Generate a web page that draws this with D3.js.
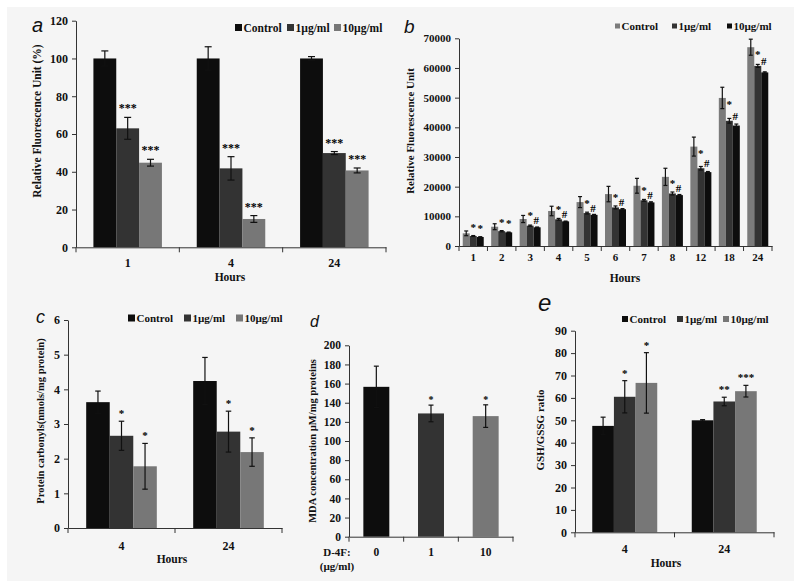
<!DOCTYPE html>
<html>
<head>
<meta charset="utf-8">
<script src="https://cdn.jsdelivr.net/npm/d3@7"></script>
<style>
  body { margin: 0; background: #fff; }
  text { font-family: "Liberation Serif", "Times New Roman", serif; fill: #111; }
  .axis path, .axis line { stroke: #333; }
  .axis text { font-weight: bold; }
  .mark { fill: #000; font-weight: bold; }
</style>
</head>
<body>
<svg width="800" height="588"></svg>
<script>
// panel a - relative fluorescence (%)
var aHours = ["1", "4", "24"];
var aControl = [100, 100, 100];
var aControlErr = [4, 6.2, 1];
var aLow = [63, 41.8, 49.9];
var aLowErr = [5.8, 6.2, 0.8];
var aHigh = [44.8, 15, 40.7];
var aHighErr = [1.8, 1.8, 1.3];
var aMarksLow = ["***", "***", "***"];
var aMarksHigh = ["***", "***", "***"];

// panel b - relative fluorescence over time
var bHours = ["1", "2", "3", "4", "5", "6", "7", "8", "12", "18", "24"];
var bControl = [4270, 6500, 9100, 11800, 14800, 17500, 20300, 23300, 33500, 49900, 67000];
var bControlErr = [800, 1000, 1200, 1600, 1850, 2600, 2500, 2900, 3200, 3600, 2700];
var bLow = [3370, 5000, 6850, 9000, 11100, 13000, 15400, 17700, 26200, 42200, 60700];
var bLowErr = [150, 200, 200, 300, 300, 500, 300, 500, 600, 800, 500];
var bHigh = [3030, 4600, 6300, 8300, 10500, 12400, 14700, 17150, 24900, 40600, 58500];
var bHighErr = [100, 100, 100, 100, 150, 200, 200, 200, 200, 500, 200];
var bMarksLow = ["*", "*", "*", "*", "*", "*", "*", "*", "*", "*", "*"];
var bMarksHigh = ["*", "*", "#", "#", "#", "#", "#", "#", "#", "#", "#"];

// panel c - protein carbonyls
var cHours = ["4", "24"];
var cControl = [3.63, 4.24];
var cControlErr = [0.32, 0.68];
var cLow = [2.66, 2.78];
var cLowErr = [0.42, 0.59];
var cHigh = [1.78, 2.19];
var cHighErr = [0.66, 0.41];
var cMarksLow = ["*", "*"];
var cMarksHigh = ["*", "*"];

// panel d - MDA
var dDoses = ["0", "1", "10"];
var dValues = [156.6, 128.8, 126];
var dErr = [21.6, 8.7, 11.8];
var dMarks = ["", "*", "*"];

// panel e - GSH/GSSG
var eHours = ["4", "24"];
var eControl = [47.5, 50];
var eControlErr = [3.9, 0.3];
var eLow = [60.5, 58.4];
var eLowErr = [7.2, 1.9];
var eHigh = [66.7, 63];
var eHighErr = [13.5, 2.6];
var eMarksLow = ["*", "**"];
var eMarksHigh = ["*", "***"];

var black = "#0d0d0d", dark = "#333333", gray = "#777777";

var svg = d3.select("svg");
svg.append("rect").attr("x", 7).attr("y", 7).attr("width", 787).attr("height", 574).attr("fill", "#f5f5f5");

function drawPanel(p) {
  var x = d3.scaleBand().domain(p.cats).range(p.xRange).paddingInner(p.pad).paddingOuter(p.pad / 2);
  var y = d3.scaleLinear().domain(p.yDomain).range(p.yRange);
  var xs = d3.scaleBand().domain(d3.range(p.series.length)).range([0, x.bandwidth()]);
  var g = svg.append("g");

  // bars, error bars, stars
  p.series.forEach(function(s, si) {
    var col = function(d, i) { return Array.isArray(s.color) ? s.color[i] : s.color; };
    var cx = function(i) { return x(p.cats[i]) + xs(si) + xs.bandwidth() / 2; };
    g.selectAll(null).data(s.values).enter().append("rect")
      .attr("x", function(d, i) { return x(p.cats[i]) + xs(si); })
      .attr("y", function(d) { return y(d); })
      .attr("width", xs.bandwidth())
      .attr("height", function(d) { return y(0) - y(d); })
      .attr("fill", col);
    var eb = g.selectAll(null).data(s.values).enter().append("g")
      .attr("stroke", "#111").attr("stroke-width", 1.2);
    eb.append("line")
      .attr("x1", function(d, i) { return cx(i); }).attr("x2", function(d, i) { return cx(i); })
      .attr("y1", function(d, i) { return y(d + s.errs[i]); })
      .attr("y2", function(d, i) { return y(d - s.errs[i]); });
    [1, -1].forEach(function(sign) {
      eb.append("line")
        .attr("x1", function(d, i) { return cx(i) - p.cap / 2; })
        .attr("x2", function(d, i) { return cx(i) + p.cap / 2; })
        .attr("y1", function(d, i) { return y(d + sign * s.errs[i]); })
        .attr("y2", function(d, i) { return y(d + sign * s.errs[i]); });
    });
    if (s.marks && !p.customMarks) {
      g.selectAll(null).data(s.values).enter().append("text")
        .attr("class", "mark")
        .attr("x", function(d, i) { return cx(i); })
        .attr("y", function(d, i) { return y(d + s.errs[i]) - p.markGap; })
        .attr("text-anchor", "middle")
        .style("font-size", p.markSize + "px")
        .text(function(d, i) { return s.marks[i]; });
    }
  });

  // y axis
  g.append("g").attr("class", "axis")
    .attr("transform", "translate(" + p.xRange[0] + ",0)")
    .call(d3.axisLeft(y).tickValues(p.yTicks).tickSize(4).tickSizeOuter(0).tickPadding(4).tickFormat(d3.format("d")))
    .call(function(a) { a.selectAll("text").style("font-size", p.tickSize + "px"); });

  // x axis with ticks at the category boundaries
  var xa = g.append("g").attr("class", "axis")
    .attr("transform", "translate(0," + y(0) + ")")
    .call(d3.axisBottom(x).tickSize(0).tickSizeOuter(0).tickPadding(p.xPad))
    .call(function(a) { a.selectAll("text").style("font-size", p.tickSize + "px"); });
  xa.selectAll(null).data(d3.range(p.cats.length + 1)).enter().append("line")
    .attr("x1", function(i) { return p.xRange[0] + i * x.step(); })
    .attr("x2", function(i) { return p.xRange[0] + i * x.step(); })
    .attr("y1", 0).attr("y2", 5).attr("stroke", "#333");

  // titles
  g.append("text")
    .attr("transform", "translate(" + p.yLabel.x + "," + p.yLabel.y + ") rotate(-90)")
    .attr("text-anchor", "middle").attr("dy", "0.35em")
    .style("font-size", p.yLabel.size + "px").style("font-weight", "bold")
    .text(p.yLabel.text);
  if (p.xLabel) {
    g.append("text").attr("x", p.xLabel.x).attr("y", p.xLabel.y).attr("dy", "0.35em")
      .attr("text-anchor", "middle").style("font-size", "11.5px").style("font-weight", "bold")
      .text(p.xLabel.text);
  }
  g.append("text").attr("x", p.letter.x).attr("y", p.letter.y)
    .style("font-family", "'Liberation Sans', Arial, sans-serif").style("font-style", "italic")
    .style("font-size", p.letter.size + "px").text(p.letter.text);

  // legend
  if (p.legend) {
    var lg = g.selectAll(null).data(p.series).enter().append("g")
      .attr("transform", function(s, i) { return "translate(" + p.legend.xs[i] + "," + p.legend.y + ")"; });
    lg.append("rect").attr("x", 0).attr("y", -p.legend.size / 2)
      .attr("width", p.legend.size).attr("height", p.legend.size)
      .attr("fill", function(s) { return s.color; });
    lg.append("text").attr("x", p.legend.size + 1.5).attr("dy", "0.35em")
      .style("font-size", p.legend.font + "px").style("font-weight", "bold")
      .text(function(s) { return s.name; });
  }
  return { x: x, y: y, xs: xs, g: g };
}

// a
drawPanel({
  cats: aHours, xRange: [76, 386], pad: 0.337, yDomain: [0, 120], yRange: [247.3, 20.7],
  yTicks: d3.range(0, 121, 20), tickSize: 12, xPad: 11, cap: 7, markGap: 5, markSize: 12,
  series: [
    { name: "Control", color: black, values: aControl, errs: aControlErr },
    { name: "1µg/ml", color: dark, values: aLow, errs: aLowErr, marks: aMarksLow },
    { name: "10µg/ml", color: gray, values: aHigh, errs: aHighErr, marks: aMarksHigh }
  ],
  yLabel: { text: "Relative Fluorescence Unit (%)", x: 37, y: 121, size: 11.5 },
  xLabel: { text: "Hours", x: 230, y: 277 },
  legend: { y: 27.5, size: 7, font: 11.5, xs: [235, 287, 334] },
  letter: { text: "a", x: 32, y: 32, size: 20 }
});

// b
var b = drawPanel({
  cats: bHours, xRange: [459, 772], pad: 0.262, yDomain: [0, 70000], yRange: [246, 38.3],
  yTicks: d3.range(0, 70001, 10000), tickSize: 11, xPad: 7, cap: 4, customMarks: true,
  series: [
    { name: "Control", color: "#7b7b7b", values: bControl, errs: bControlErr },
    { name: "1µg/ml", color: dark, values: bLow, errs: bLowErr, marks: bMarksLow },
    { name: "10µg/ml", color: black, values: bHigh, errs: bHighErr, marks: bMarksHigh }
  ],
  yLabel: { text: "Relative Fluorescence Unit", x: 410, y: 131, size: 11 },
  xLabel: { text: "Hours", x: 625, y: 278 },
  legend: { y: 26, size: 5, font: 11, xs: [615, 672, 727] },
  letter: { text: "b", x: 404, y: 33, size: 19 }
});
// b significance marks: above the bars for early hours, beside them later on
bHours.forEach(function(h, i) {
  var left = b.x(h);
  var xLow = left + b.xs(1) + b.xs.bandwidth() / 2;
  var xHigh = left + b.xs(2) + b.xs.bandwidth() / 2;
  var yLow, yHigh;
  if (bMarksHigh[i] === "*") {
    yLow = b.y(bLow[i]) - 11;
    yHigh = b.y(bHigh[i]) - 11;
  } else {
    yLow = Math.min(b.y(bControl[i]) + 5, b.y(bLow[i]) - 12);
    yHigh = b.y(bLow[i]) - 5;
    xHigh -= 1;
  }
  b.g.append("text").attr("class", "mark").attr("x", xLow).attr("y", yLow + 5.5).attr("text-anchor", "middle")
    .style("font-size", "11px").text(bMarksLow[i]);
  b.g.append("text").attr("class", "mark").attr("x", xHigh).attr("y", yHigh + (bMarksHigh[i] === "#" ? 3.8 : 5.5))
    .attr("text-anchor", "middle").style("font-size", "11px").text(bMarksHigh[i]);
});

// c
drawPanel({
  cats: cHours, xRange: [68, 282], pad: 0.34, yDomain: [0, 6], yRange: [528, 320],
  yTicks: d3.range(0, 7, 1), tickSize: 12, xPad: 13, cap: 5.5, markGap: 4, markSize: 11,
  series: [
    { name: "Control", color: black, values: cControl, errs: cControlErr },
    { name: "1µg/ml", color: dark, values: cLow, errs: cLowErr, marks: cMarksLow },
    { name: "10µg/ml", color: gray, values: cHigh, errs: cHighErr, marks: cMarksHigh }
  ],
  yLabel: { text: "Protein carbonyls(nmols/mg protein)", x: 40, y: 421, size: 10.5 },
  xLabel: { text: "Hours", x: 172, y: 559 },
  legend: { y: 318, size: 7, font: 11, xs: [128, 184, 236] },
  letter: { text: "c", x: 36, y: 323, size: 18 }
});

// d
var d = drawPanel({
  cats: dDoses, xRange: [349, 513], pad: 0.525, yDomain: [0, 200], yRange: [536.7, 345.3],
  yTicks: d3.range(0, 201, 20), tickSize: 11.5, xPad: 11, cap: 5, markGap: 2, markSize: 10,
  series: [
    { name: "D-4F", color: [black, dark, gray], values: dValues, errs: dErr, marks: dMarks }
  ],
  yLabel: { text: "MDA concentration µM/mg proteins", x: 312, y: 441, size: 10.5 },
  letter: { text: "d", x: 310, y: 327, size: 16 }
});
d.g.append("text").attr("x", 337).attr("y", 552).attr("dy", "0.35em").attr("text-anchor", "middle")
  .style("font-size", "11px").style("font-weight", "bold").text("D-4F:");
d.g.append("text").attr("x", 337).attr("y", 566).attr("dy", "0.35em").attr("text-anchor", "middle")
  .style("font-size", "11px").style("font-weight", "bold").text("(µg/ml)");

// e
drawPanel({
  cats: eHours, xRange: [575, 774], pad: 0.347, yDomain: [0, 90], yRange: [532.3, 330.7],
  yTicks: d3.range(0, 91, 10), tickSize: 12, xPad: 12, cap: 5, markGap: 4, markSize: 11,
  series: [
    { name: "Control", color: black, values: eControl, errs: eControlErr },
    { name: "1µg/ml", color: dark, values: eLow, errs: eLowErr, marks: eMarksLow },
    { name: "10µg/ml", color: gray, values: eHigh, errs: eHighErr, marks: eMarksHigh }
  ],
  yLabel: { text: "GSH/GSSG ratio", x: 540, y: 430, size: 11 },
  xLabel: { text: "Hours", x: 666, y: 563 },
  legend: { y: 319, size: 6, font: 11, xs: [622, 677, 723] },
  letter: { text: "e", x: 538, y: 311, size: 24 }
});
</script>
</body>
</html>
